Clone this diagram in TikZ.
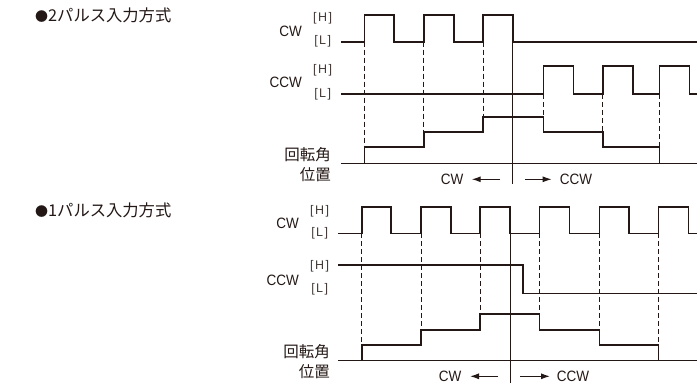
\documentclass[tikz,border=0pt]{standalone}
\usepackage{fontspec}
\setmainfont{Liberation Sans}
\newfontfamily\jp{Noto Sans CJK JP}
\newfontfamily\lvlfont[LetterSpace=12]{Liberation Sans}
\newfontfamily\sigfont[FakeStretch=0.9]{Liberation Sans}
\usetikzlibrary{arrows.meta}
\definecolor{ink}{HTML}{231815}
\newcommand{\mydot}{{\fontsize{13}{16}\selectfont ●}}
\tikzset{
  sig/.style={line width=1.6pt, ink},
  base/.style={line width=1.1pt, ink},
  divider/.style={line width=0.7pt, ink},
  guide/.style={line width=0.7pt, ink, dash pattern=on 5pt off 3pt},
  dirarrow/.style={line width=1.1pt, ink, -{Latex[length=9pt,width=6pt]}},
  lbl/.style={inner sep=0pt, text=ink, font=\sigfont\fontsize{15}{16}\selectfont},
  lvl/.style={inner sep=0pt, text=ink!85, font=\lvlfont\fontsize{12.5}{14}\selectfont},
  jlbl/.style={inner sep=0pt, text=ink, font=\jp\fontsize{15.5}{18}\selectfont},
  ttl/.style={inner sep=0pt, text=ink, font=\jp\fontsize{16.3}{18}\selectfont, anchor=west},
}
\begin{document}
\begin{tikzpicture}[x=1pt,y=-1pt]
\useasboundingbox (0,0) rectangle (697,383);
% ---------- 2-pulse ----------
\node[ttl] (t1) at (35,15) {\mydot 2パルス入力方式};
\node[lbl,anchor=east] (cw1) at (302,31) {CW};
\node[lvl] (h1) at (322.7,18.3) {[H]};
\node[lvl] (l1) at (322.7,41.7) {[L]};
\node[lbl,anchor=east] (ccw1) at (302,82.7) {CCW};
\node[lvl] (h2) at (322.7,70) {[H]};
\node[lvl] (l2) at (322.7,94) {[L]};
\node[jlbl,anchor=east] (r1) at (331,155) {回転角};
\node[jlbl,anchor=east] (p1) at (331,175) {位置};

\draw[guide] (364.3,41.7) -- (364.3,146.7);
\draw[guide] (423.7,41.7) -- (423.7,131.7);
\draw[guide] (483,41.7) -- (483,116.7);
\draw[guide] (543.3,94) -- (543.3,116.7);
\draw[guide] (602.7,94) -- (602.7,131.7);
\draw[guide] (659.3,94) -- (659.3,146.7);
\draw[divider] (512.7,41.7) -- (512.7,184.3);

\draw[sig] (341,41.7) -- (364.3,41.7) -- (364.3,14.7) -- (394,14.7) -- (394,41.7)
  -- (423.7,41.7) -- (423.7,14.7) -- (454,14.7) -- (454,41.7)
  -- (483,41.7) -- (483,14.7) -- (512.7,14.7) -- (512.7,41.7) -- (697,41.7);
\draw[sig] (341,94) -- (543.3,94) -- (543.3,66) -- (573.3,66) -- (573.3,94)
  -- (602.7,94) -- (602.7,66) -- (632.7,66) -- (632.7,94)
  -- (659.3,94) -- (659.3,66) -- (689.3,66) -- (689.3,94) -- (697,94);
\draw[base] (341,163.3) -- (697,163.3);
\draw[sig] (364.3,163.3) -- (364.3,146.7) -- (423.7,146.7) -- (423.7,131.7)
  -- (483,131.7) -- (483,116.7) -- (543.3,116.7) -- (543.3,131.7)
  -- (602.7,131.7) -- (602.7,146.7) -- (659.3,146.7) -- (659.3,163.3);

\coordinate (a1s) at (500,179.3);
\coordinate (a1e) at (471.7,179.3);
\coordinate (b1s) at (525,179.3);
\coordinate (b1e) at (551.7,179.3);
\draw[dirarrow] (a1s) -- (a1e);
\draw[dirarrow] (b1s) -- (b1e);
\node[lbl] (dcw1) at (452,179.3) {CW};
\node[lbl] (dccw1) at (576,179.3) {CCW};

% ---------- 1-pulse ----------
\node[ttl] (t2) at (35,210) {\mydot 1パルス入力方式};
\node[lbl,anchor=east] (cw2) at (299,223.3) {CW};
\node[lvl] (h3) at (319.7,211.7) {[H]};
\node[lvl] (l3) at (319.7,233.3) {[L]};
\node[lbl,anchor=east] (ccw2) at (299,280) {CCW};
\node[lvl] (h4) at (319.7,266.7) {[H]};
\node[lvl] (l4) at (319.7,289.3) {[L]};
\node[jlbl,anchor=east] (r2) at (330,351.7) {回転角};
\node[jlbl,anchor=east] (p2) at (330,371.7) {位置};

\draw[guide] (361.7,233.3) -- (361.7,345);
\draw[guide] (421,233.3) -- (421,330);
\draw[guide] (480,233.3) -- (480,314);
\draw[guide] (539.3,233.3) -- (539.3,314);
\draw[guide] (599.3,233.3) -- (599.3,330);
\draw[guide] (658.3,233.3) -- (658.3,345);
\draw[divider] (510,233.3) -- (510,383);

\draw[sig] (338.3,233.3) -- (361.7,233.3) -- (361.7,206.7) -- (391,206.7) -- (391,233.3)
  -- (421,233.3) -- (421,206.7) -- (450.7,206.7) -- (450.7,233.3)
  -- (480,233.3) -- (480,206.7) -- (510,206.7) -- (510,233.3)
  -- (539.3,233.3) -- (539.3,206.7) -- (569.3,206.7) -- (569.3,233.3)
  -- (599.3,233.3) -- (599.3,206.7) -- (629,206.7) -- (629,233.3)
  -- (658.3,233.3) -- (658.3,206.7) -- (688.3,206.7) -- (688.3,233.3) -- (697,233.3);
\draw[sig] (338.3,265) -- (522.7,265) -- (522.7,293.3) -- (697,293.3);
\draw[base] (338.3,360.7) -- (697,360.7);
\draw[sig] (361.7,360.7) -- (361.7,345) -- (421,345) -- (421,330)
  -- (480,330) -- (480,314) -- (539.3,314) -- (539.3,330)
  -- (599.3,330) -- (599.3,345) -- (658.3,345) -- (658.3,360.7);

\coordinate (a2s) at (498,376.3);
\coordinate (a2e) at (470,376.3);
\coordinate (b2s) at (520,376.3);
\coordinate (b2e) at (550,376.3);
\draw[dirarrow] (a2s) -- (a2e);
\draw[dirarrow] (b2s) -- (b2e);
\node[lbl] (dcw2) at (450,376) {CW};
\node[lbl] (dccw2) at (573,376) {CCW};
\end{tikzpicture}
\end{document}
